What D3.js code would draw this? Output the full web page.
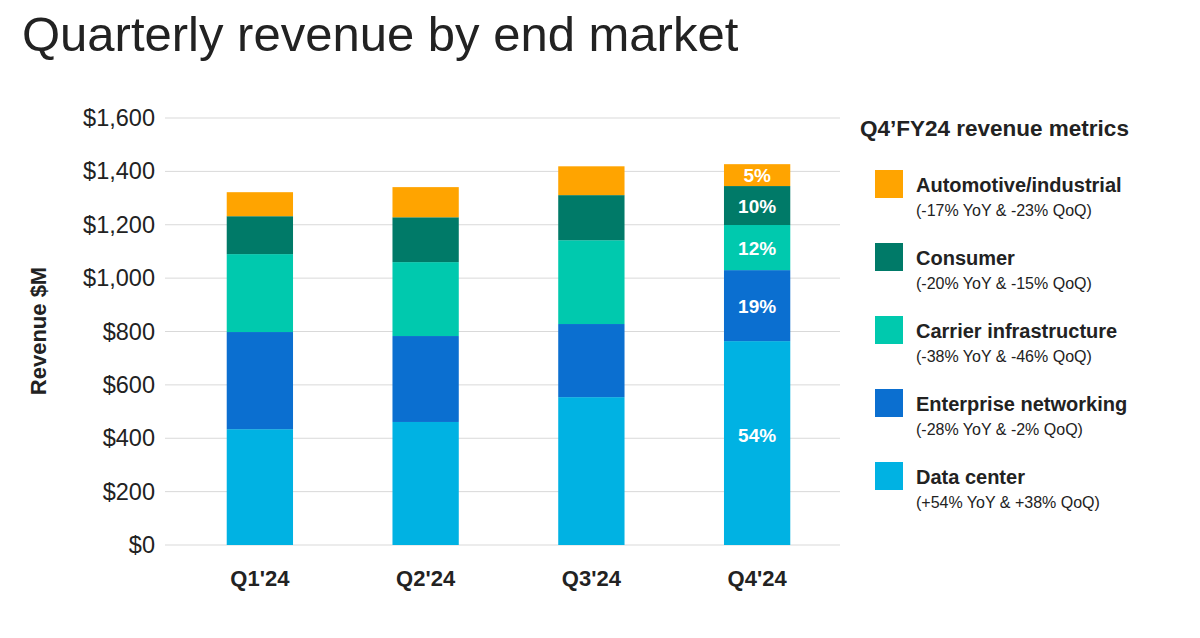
<!DOCTYPE html>
<html><head><meta charset="utf-8">
<script src="https://cdn.jsdelivr.net/npm/d3@7"></script>
<style>body{margin:0;background:#fff;font-family:Arial,"Liberation Sans",sans-serif}</style>
</head><body><svg id="c" width="1200" height="638"></svg>
<script>
const quarters=["Q1'24","Q2'24","Q3'24","Q4'24"];
const dataCenter=[434,461,554,764];
const enterprise=[364,322,274,266];
const carrier=[292,277,314,169];
const consumer=[142,168,169,146];
const automotive=[90,113,108,82];
const q4Labels=["54%","19%","12%","10%","5%"];
const yTicks=[0,200,400,600,800,1000,1200,1400,1600];
const seriesNames=["Data center","Enterprise networking","Carrier infrastructure","Consumer","Automotive/industrial"];
const seriesNotes=["(+54% YoY & +38% QoQ)","(-28% YoY & -2% QoQ)","(-38% YoY & -46% QoQ)","(-20% YoY & -15% QoQ)","(-17% YoY & -23% QoQ)"];
const colors=["#00B2E3","#0B6FD0","#00C9AE","#007A68","#FFA400"];
const series=[dataCenter,enterprise,carrier,consumer,automotive];

const svg=d3.select("#c");
svg.append("text").attr("x",22).attr("y",51).attr("font-size",49).attr("fill","#222").text("Quarterly revenue by end market");
const y=d3.scaleLinear().domain([0,1600]).range([545,118]);
const x=d3.scaleBand().domain(quarters).range([177,840]).paddingInner(0.6).paddingOuter(0.3);
const g=svg.append("g");
g.selectAll("line.grid").data(yTicks).join("line").attr("x1",165).attr("x2",840)
 .attr("y1",d=>y(d)).attr("y2",d=>y(d)).attr("stroke","#d9d9d9");
g.selectAll("text.yt").data(yTicks).join("text").attr("x",155).attr("y",d=>y(d)+8)
 .attr("text-anchor","end").attr("font-size",23.5).attr("fill","#222").text(d=>"$"+d3.format(",")(d));
svg.append("text").attr("transform","translate(46,331) rotate(-90)").attr("text-anchor","middle")
 .attr("font-size",22).attr("font-weight","bold").attr("fill","#222").text("Revenue $M");
quarters.forEach((q,i)=>{
  let base=0;
  series.forEach((s,k)=>{
    const v=s[i];
    svg.append("rect").attr("x",x(q)).attr("width",x.bandwidth()).attr("y",y(base+v)).attr("height",y(base)-y(base+v)).attr("fill",colors[k]);
    if(i===3){
      const cy=k===0?y(base+v*0.5)-8:(y(base)+y(base+v))/2;
      svg.append("text").attr("x",x(q)+x.bandwidth()/2).attr("y",cy+7)
       .attr("text-anchor","middle").attr("font-size",19).attr("font-weight","bold").attr("fill","#fff").text(q4Labels[k]);
    }
    base+=v;
  });
  svg.append("text").attr("x",x(q)+x.bandwidth()/2).attr("y",586).attr("text-anchor","middle")
   .attr("font-size",22).attr("font-weight","bold").attr("fill","#222").text(q);
});
svg.append("text").attr("x",860).attr("y",136).attr("font-size",22.5).attr("font-weight","bold").attr("fill","#222").text("Q4\u2019FY24 revenue metrics");
[4,3,2,1,0].forEach((k,j)=>{
  const ty=170+j*73;
  svg.append("rect").attr("x",875).attr("y",ty).attr("width",28).attr("height",28).attr("fill",colors[k]);
  svg.append("text").attr("x",916).attr("y",ty+22).attr("font-size",20).attr("font-weight","bold").attr("fill","#222").text(seriesNames[k]);
  svg.append("text").attr("x",916).attr("y",ty+46).attr("font-size",16).attr("fill","#222").text(seriesNotes[k]);
});
</script></body></html>
